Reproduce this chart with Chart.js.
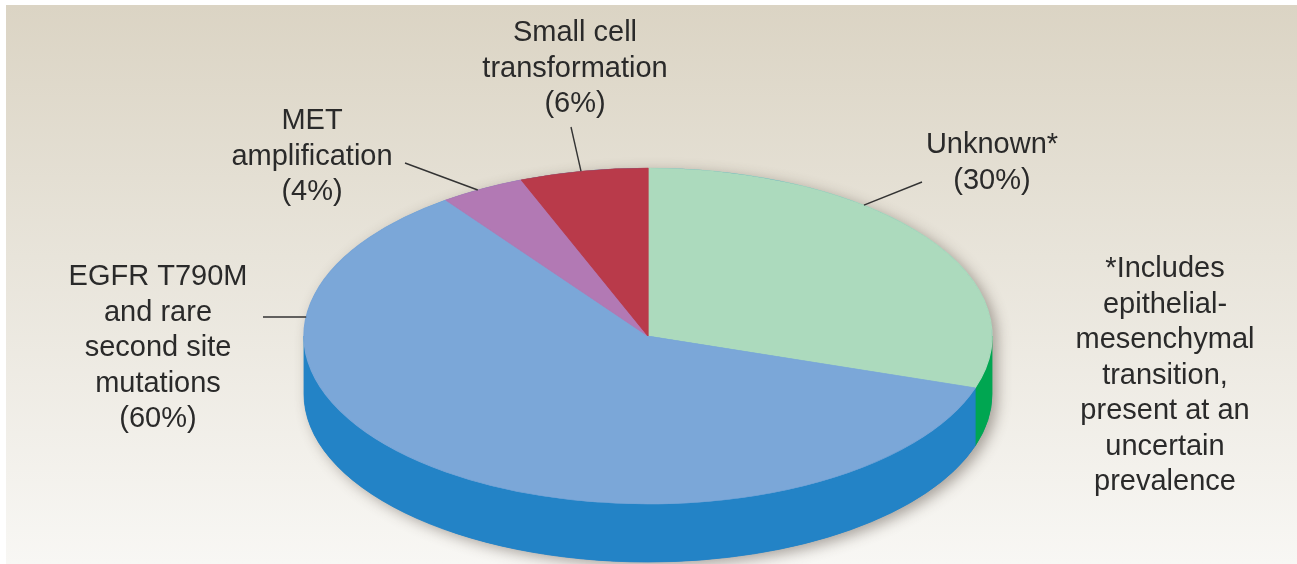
<!DOCTYPE html>
<html>
<head>
<meta charset="utf-8">
<script src="https://cdn.jsdelivr.net/npm/chart.js@4.4.1/dist/chart.umd.min.js"></script>
<style>
  html, body { margin: 0; padding: 0; background: #fff; overflow: hidden; }
  #wrap { position: relative; width: 1297px; height: 564px; }
</style>
</head>
<body>
<div id="wrap"><canvas id="c"></canvas></div>
<script>
// Mechanisms of acquired resistance, share of cases (%), clockwise from 12 o'clock
const categories = ['Unknown*', 'EGFR T790M and rare second site mutations', 'MET amplification', 'Small cell transformation'];
const shares = [30, 60, 4, 6];
const labelLines = [
  ['Unknown*'],
  ['EGFR T790M', 'and rare', 'second site', 'mutations'],
  ['MET', 'amplification'],
  ['Small cell', 'transformation']
];
const footnoteLines = ['*Includes', 'epithelial-', 'mesenchymal', 'transition,', 'present at an', 'uncertain', 'prevalence'];
const topColors = ['#acdabd', '#7ba7d8', '#b279b4', '#b93a4a'];
const sideColors = ['#00a651', '#2383c6', '#8f5592', '#8f2a38'];

// tilted disc geometry on the page
const DISC = { cx: 648, cy: 336, rx: 344, ry: 168, depth: 58 };
// label text centre + first baseline, leader outer end, and fraction along the slice where the leader meets the rim
const LABEL_POS = [
  { x: 992, y: 153, lx: 922, ly: 182, f: 0.36 },
  { x: 158, y: 285, lx: 263, ly: 317, f: 0.78 },
  { x: 312, y: 129, lx: 405, ly: 163, f: 0.44 },
  { x: 575, y: 41,  lx: 571, ly: 127, f: 0.48 }
];
const FOOTNOTE_POS = { x: 1165, y: 277 };
const FONT = '29px "Liberation Sans", Arial, Helvetica, sans-serif';
const LINE_H = 35.5;
const TEXT_COLOR = '#2a2a2a';

function rimPoint(angle) {
  return { x: DISC.cx + DISC.rx * Math.cos(angle), y: DISC.cy + DISC.ry * Math.sin(angle) };
}

const tiltedPie = {
  id: 'tiltedPie',
  beforeDraw(chart) {
    const ctx = chart.ctx;
    ctx.save();
    ctx.fillStyle = '#ffffff';
    ctx.fillRect(0, 0, chart.width, chart.height);
    const g = ctx.createLinearGradient(0, 5, 0, chart.height);
    g.addColorStop(0, '#dbd4c4');
    g.addColorStop(0.45, '#e8e4da');
    g.addColorStop(1, '#f8f7f4');
    ctx.fillStyle = g;
    ctx.fillRect(6, 5, chart.width - 6, chart.height - 5);
    ctx.restore();
  },
  beforeDatasetsDraw(chart) {
    const ctx = chart.ctx;
    const arcs = chart.getDatasetMeta(0).data;
    const { cx, cy, rx, ry, depth } = DISC;

    // soft drop shadow beneath the disc
    ctx.save();
    ctx.shadowColor = 'rgba(70,60,50,0.45)';
    ctx.shadowBlur = 14;
    ctx.shadowOffsetX = 5;
    ctx.shadowOffsetY = 4;
    ctx.fillStyle = sideColors[1];
    ctx.beginPath();
    ctx.ellipse(cx, cy, rx, ry, 0, Math.PI, 2 * Math.PI);
    ctx.ellipse(cx, cy + depth, rx, ry, 0, 0, Math.PI);
    ctx.closePath();
    ctx.fill();
    ctx.restore();

    // visible front walls of each slice
    ctx.save();
    arcs.forEach((arc, i) => {
      [[0, Math.PI], [2 * Math.PI, 3 * Math.PI]].forEach(([lo, hi]) => {
        const a = Math.max(arc.startAngle, lo);
        const b = Math.min(arc.endAngle, hi);
        if (b <= a) return;
        ctx.beginPath();
        ctx.ellipse(cx, cy, rx, ry, 0, a, b);
        ctx.ellipse(cx, cy + depth, rx, ry, 0, b, a, true);
        ctx.closePath();
        ctx.fillStyle = sideColors[i];
        ctx.strokeStyle = sideColors[i];
        ctx.lineWidth = 0.8;
        ctx.fill();
        ctx.stroke();
      });
    });
    ctx.restore();

    // squash the library's circular pie into the tilted top face
    const a0 = arcs[0];
    const R = a0.outerRadius;
    ctx.save();
    ctx.translate(cx, cy);
    ctx.scale(rx / R, ry / R);
    ctx.translate(-a0.x, -a0.y);
  },
  afterDatasetsDraw(chart) {
    chart.ctx.restore();
  },
  afterDraw(chart) {
    const ctx = chart.ctx;
    const arcs = chart.getDatasetMeta(0).data;
    ctx.save();
    ctx.font = FONT;
    ctx.fillStyle = TEXT_COLOR;
    ctx.textAlign = 'center';
    ctx.textBaseline = 'alphabetic';

    arcs.forEach((arc, i) => {
      const p = LABEL_POS[i];
      const lines = labelLines[i].concat(['(' + shares[i] + '%)']);
      lines.forEach((t, k) => ctx.fillText(t, p.x, p.y + k * LINE_H));
      const ang = arc.startAngle + p.f * (arc.endAngle - arc.startAngle);
      const rp = rimPoint(ang);
      ctx.beginPath();
      ctx.moveTo(p.lx, p.ly);
      ctx.lineTo(rp.x, rp.y);
      ctx.strokeStyle = '#333333';
      ctx.lineWidth = 1.4;
      ctx.stroke();
    });

    footnoteLines.forEach((t, k) => ctx.fillText(t, FOOTNOTE_POS.x, FOOTNOTE_POS.y + k * LINE_H));
    ctx.restore();
  }
};

new Chart(document.getElementById('c'), {
  type: 'pie',
  data: {
    labels: categories,
    datasets: [{
      data: shares,
      backgroundColor: topColors,
      borderColor: topColors,
      borderWidth: 1,
      hoverOffset: 0,
      clip: false
    }]
  },
  options: {
    responsive: true,
    maintainAspectRatio: false,
    animation: false,
    events: [],
    layout: { padding: 10 },
    plugins: {
      legend: { display: false },
      tooltip: { enabled: false }
    }
  },
  plugins: [tiltedPie]
});
</script>
</body>
</html>
